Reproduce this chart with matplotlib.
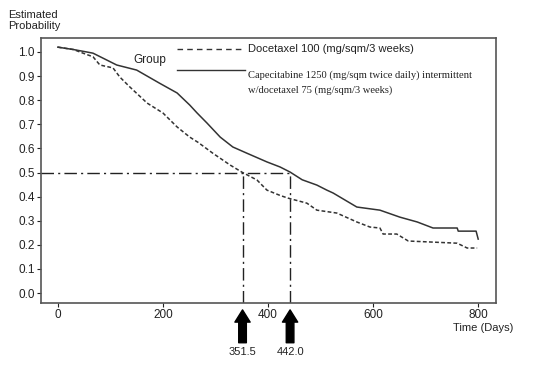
import numpy as np
import matplotlib
matplotlib.use("Agg")
from matplotlib import pyplot as plt

# Kaplan-Meier curves
cap_days = [0, 30, 55, 67, 90, 112, 150, 194, 227, 251, 265, 284, 309, 333, 360, 398, 423, 442,
            465, 493, 512, 524, 569, 613, 651, 684, 714, 760, 762, 796, 800]
cap_surv = [1.02, 1.01, 1.0, 0.995, 0.97, 0.946, 0.925, 0.87, 0.83, 0.78, 0.747, 0.705, 0.647, 0.606,
            0.58, 0.544, 0.523, 0.502, 0.47, 0.448, 0.427, 0.415, 0.357, 0.344, 0.315, 0.295, 0.27,
            0.27, 0.257, 0.257, 0.224]

doc_days = [0, 30, 48, 67, 80, 105, 118, 137, 170, 200, 227, 251, 267, 295, 328, 350, 379, 398,
            423, 438, 474, 493, 531, 569, 594, 613, 619, 645, 667, 760, 779, 798]
doc_surv = [1.02, 1.01, 0.995, 0.98, 0.946, 0.934, 0.896, 0.855, 0.788, 0.747, 0.689, 0.647, 0.625,
            0.58, 0.531, 0.502, 0.469, 0.427, 0.405, 0.394, 0.373, 0.344, 0.332, 0.295, 0.274, 0.27,
            0.245, 0.245, 0.216, 0.207, 0.187, 0.187]

medians = [351.5, 442.0]
median_labels = ["351.5", "442.0"]

x_ticks = [0, 200, 400, 600, 800]
y_ticks = [0.0, 0.1, 0.2, 0.3, 0.4, 0.5, 0.6, 0.7, 0.8, 0.9, 1.0]

doc_label = "Docetaxel 100 (mg/sqm/3 weeks)"
cap_label = "Capecitabine 1250 (mg/sqm twice daily) intermittent\nw/docetaxel 75 (mg/sqm/3 weeks)"

plt.rcParams['font.family'] = ['Liberation Sans', 'DejaVu Sans']
ink = '#333333'

fig = plt.figure(figsize=(5.58, 3.71), dpi=100)
ax = fig.add_axes([0.0735, 0.1833, 0.8155, 0.7143])
ax.set_xlim(-32, 834)
ax.set_ylim(-0.041, 1.058)

ax.plot(cap_days, cap_surv, color=ink, lw=1.1)
ax.plot(doc_days, doc_surv, color=ink, lw=1.1, linestyle=(0, (2.5, 1.5)))

# median lines
dd = (0, (9, 3, 1.5, 3))
ax.hlines(0.5, -32, max(medians), color='#222222', lw=1.0, linestyles=[dd])
ax.vlines(medians, -0.041, 0.5, color='#222222', lw=1.0, linestyles=[dd])

# arrows and values below the axis
for m, lab in zip(medians, median_labels):
    ax.annotate('', xy=(m, -0.026), xytext=(m, -0.15),
                xycoords=('data', 'axes fraction'), textcoords=('data', 'axes fraction'),
                arrowprops=dict(arrowstyle='simple,head_length=0.8,head_width=1.0,tail_width=0.5',
                                mutation_scale=11, color='black', shrinkA=0, shrinkB=0),
                annotation_clip=False)
    ax.text(m, -0.185, lab, transform=ax.get_xaxis_transform(), ha='center', va='center',
            fontsize=8, color='#222222')

ax.set_xticks(x_ticks)
ax.set_yticks(y_ticks)
ax.set_yticklabels(['%.1f' % v for v in y_ticks])
ax.tick_params(labelsize=8.5, colors='#222222', length=3, pad=1.5)
for s in ax.spines.values():
    s.set_color('#555555')
    s.set_linewidth(1.2)

# hand made legend
ax.text(0.24, 0.917, 'Group', transform=ax.transAxes, ha='center', va='center', fontsize=8.5, color='#222222')
ax.plot([0.299, 0.448], [0.958, 0.958], transform=ax.transAxes, color=ink, lw=1.0,
        linestyle=(0, (4, 3)))
ax.plot([0.299, 0.448], [0.879, 0.879], transform=ax.transAxes, color=ink, lw=1.0)
ax.text(0.455, 0.958, doc_label, transform=ax.transAxes, ha='left', va='center', fontsize=8, color='#222222')
ax.text(0.455, 0.879, cap_label, transform=ax.transAxes, ha='left', va='top', fontsize=7.6,
        family='Liberation Serif', color='#222222', linespacing=1.75)

fig.text(8 / 558, 1 - 10 / 371, 'Estimated\nProbability', ha='left', va='top', fontsize=8, color='#222222',
         linespacing=1.15)
fig.text(483 / 558, 1 - 328 / 371, 'Time (Days)', ha='center', va='center', fontsize=8, color='#222222')

fig.savefig('out.png', dpi=100)
